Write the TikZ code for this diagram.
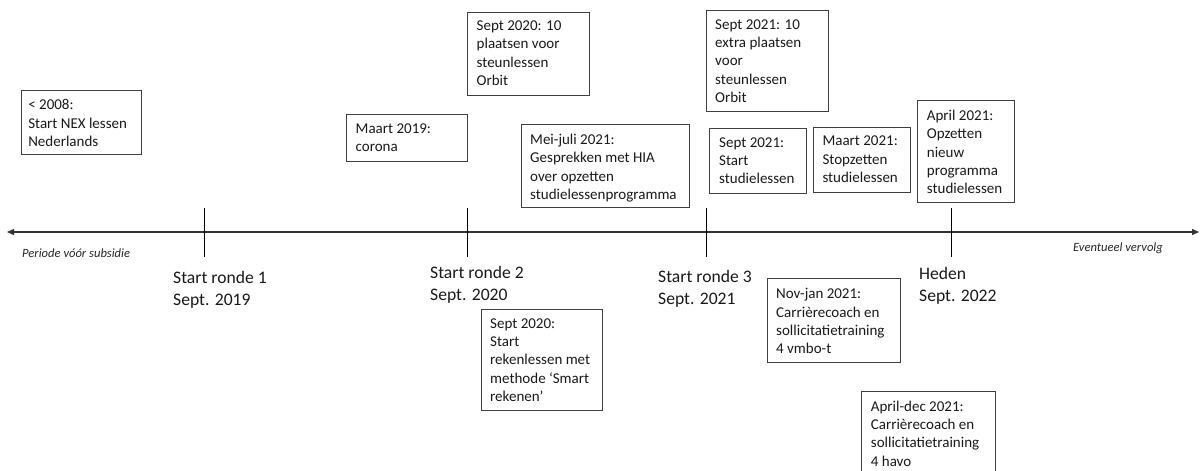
\documentclass[tikz,border=0pt]{standalone}
\usepackage{fontspec}
\setmainfont{Carlito}
\usetikzlibrary{arrows.meta}
\begin{document}
\begin{tikzpicture}[x=1pt,y=-1pt,
  frame/.style={draw=black!75, line width=0.9pt, anchor=north west, inner sep=0pt},
  boxtxt/.style={anchor=north west, inner sep=0pt, align=left, font=\fontsize{15}{18.3}\selectfont, text=black!90},
  big/.style={anchor=north west, inner sep=0pt, align=left, font=\fontsize{17.6}{21.8}\selectfont, text=black!90},
  note/.style={inner sep=0pt, font=\fontsize{12.6}{14}\selectfont\itshape, text=black!85},
  axis/.style={line width=1.3pt, draw=black!80, {Triangle[length=7pt,width=6pt]}-{Triangle[length=7pt,width=6pt]}},
  tickline/.style={line width=0.8pt, draw=black}]
\useasboundingbox (0,0) rectangle (1203,471);
\clip (0,0) rectangle (1203,471);

% timeline
\coordinate (L) at (7,232);
\coordinate (R) at (1199,232);
\draw[axis] (L) -- (R);

% ticks
\coordinate (k1a) at (204,208); \coordinate (k1b) at (204,257);
\coordinate (k2a) at (467,208); \coordinate (k2b) at (467,257);
\coordinate (k3a) at (706,208); \coordinate (k3b) at (706,257);
\coordinate (k4a) at (951,208); \coordinate (k4b) at (951,257);
\draw[tickline] (k1a) -- (k1b);
\draw[tickline] (k2a) -- (k2b);
\draw[tickline] (k3a) -- (k3b);
\draw[tickline] (k4a) -- (k4b);

% side notes
\node[note, anchor=west] (pre) at (22,253) {Periode vóór subsidie};
\node[note, anchor=east] (post) at (1163,248) {Eventueel vervolg};

% milestone labels
\node[big] (m1) at (173,271.5) {Start ronde 1\\Sept. 2019};
\node[big] (m2) at (430,266.5) {Start ronde 2\\Sept. 2020};
\node[big] (m3) at (658,270.5) {Start ronde 3\\Sept. 2021};
\node[big] (m4) at (919,267.5) {Heden\\Sept. 2022};

% boxes
\node[frame, minimum width=120pt, minimum height=64pt] (b1) at (20.5,90) {};
\node[boxtxt] (t1) at ([xshift=7.6pt, yshift=-9.3pt]b1.north west) {< 2008:\\Start NEX lessen\\Nederlands};

\node[frame, minimum width=121.5pt, minimum height=46.5pt] (b2) at (345.5,114) {};
\node[boxtxt] (t2) at ([xshift=10pt, yshift=-9.3pt]b2.north west) {Maart 2019:\\corona};

\node[frame, minimum width=122pt, minimum height=83.5pt] (b3) at (467,11.5) {};
\node[boxtxt] (t3) at ([xshift=9.5pt, yshift=-9.2pt]b3.north west) {Sept 2020: 10\\plaatsen voor\\steunlessen\\Orbit};

\node[frame, minimum width=168pt, minimum height=83pt] (b4) at (521,124) {};
\node[boxtxt] (t4) at ([xshift=9pt, yshift=-10pt]b4.north west) {Mei-juli 2021:\\Gesprekken met HIA\\over opzetten\\studielessenprogramma};

\node[frame, minimum width=122pt, minimum height=101pt] (b5) at (706,10) {};
\node[boxtxt] (t5) at ([xshift=9pt, yshift=-9.3pt]b5.north west) {Sept 2021: 10\\extra plaatsen\\voor\\steunlessen\\Orbit};

\node[frame, minimum width=97pt, minimum height=65pt] (b6) at (709,128) {};
\node[boxtxt] (t6) at ([xshift=10pt, yshift=-9.3pt]b6.north west) {Sept 2021:\\Start\\studielessen};

\node[frame, minimum width=97pt, minimum height=65pt] (b7) at (813,127) {};
\node[boxtxt] (t7) at ([xshift=9.3pt, yshift=-9pt]b7.north west) {Maart 2021:\\Stopzetten\\studielessen};

\node[frame, minimum width=97pt, minimum height=102pt] (b8) at (917,100) {};
\node[boxtxt] (t8) at ([xshift=9.7pt, yshift=-10pt]b8.north west) {April 2021:\\Opzetten\\nieuw\\programma\\studielessen};

\node[frame, minimum width=121pt, minimum height=101pt] (b9) at (481,309) {};
\node[boxtxt] (t9) at ([xshift=9pt, yshift=-9.3pt]b9.north west) {Sept 2020:\\Start\\rekenlessen met\\methode ‘Smart\\rekenen’};

\node[frame, minimum width=133pt, minimum height=84pt] (b10) at (767,278) {};
\node[boxtxt] (t10) at ([xshift=9pt, yshift=-10.3pt]b10.north west) {Nov-jan 2021:\\Carrièrecoach en\\sollicitatietraining\\4 vmbo-t};

\node[frame, minimum width=134pt, minimum height=92pt] (b11) at (861,391) {};
\node[boxtxt] (t11) at ([xshift=9.7pt, yshift=-9.7pt]b11.north west) {April-dec 2021:\\Carrièrecoach en\\sollicitatietraining\\4 havo};
\end{tikzpicture}
\end{document}
